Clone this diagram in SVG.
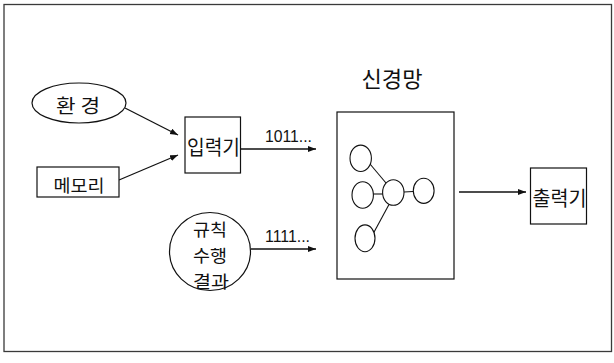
<svg xmlns="http://www.w3.org/2000/svg" width="614" height="363" viewBox="0 0 614 363">
  <style>
    .frame { fill: none; stroke: #3a3a3a; stroke-width: 1.3; }
    .shape { fill: #fff; stroke: #111; stroke-width: 1.2; }
    .net { fill: #fff; stroke: #111; stroke-width: 1.1; }
    .link { stroke: #111; stroke-width: 1.1; fill: none; }
    .conn { stroke: #111; stroke-width: 1.3; fill: none; }
    .ko { font-family: "Noto Sans CJK KR", "Noto Sans", sans-serif; fill: #111; text-anchor: middle; dominant-baseline: central; }
    .num { font-family: "Liberation Sans", Arial, sans-serif; fill: #111; font-size: 16px; }
  </style>
  <defs>
    <marker id="arrow" markerUnits="userSpaceOnUse" markerWidth="9" markerHeight="7" refX="8" refY="3" orient="auto">
      <path d="M0,0 L8,3 L0,6 z" fill="#111"/>
    </marker>
  </defs>

  <rect class="frame" x="4" y="4.5" width="607.5" height="347"/>

  <g id="connectors">
    <line class="conn" x1="125" y1="108" x2="178" y2="135" marker-end="url(#arrow)"/>
    <line class="conn" x1="119" y1="180" x2="178" y2="155" marker-end="url(#arrow)"/>
    <line class="conn" x1="241" y1="149" x2="316" y2="149" marker-end="url(#arrow)"/>
    <line class="conn" x1="251" y1="249" x2="316" y2="249" marker-end="url(#arrow)"/>
    <line class="conn" x1="459" y1="192" x2="526" y2="192" marker-end="url(#arrow)"/>
    <text class="num" x="265" y="141.5" textLength="47" lengthAdjust="spacingAndGlyphs">1011...</text>
    <text class="num" x="265" y="242" textLength="45" lengthAdjust="spacingAndGlyphs">1111...</text>
  </g>

  <g id="env">
    <ellipse class="shape" cx="79" cy="103" rx="47" ry="20"/>
    <text class="ko" x="78" y="104" font-size="19" textLength="44" lengthAdjust="spacingAndGlyphs">환 경</text>
  </g>

  <g id="memory">
    <rect class="shape" x="37" y="167" width="82" height="30"/>
    <text class="ko" x="79" y="184" font-size="17" textLength="51" lengthAdjust="spacingAndGlyphs">메모리</text>
  </g>

  <g id="input">
    <rect class="shape" x="185" y="117" width="55.5" height="56"/>
    <text class="ko" x="213.5" y="146" font-size="20" textLength="53" lengthAdjust="spacingAndGlyphs">입력기</text>
  </g>

  <g id="rules">
    <ellipse class="shape" cx="210" cy="251.5" rx="40.5" ry="39"/>
    <text class="ko" x="210" y="228" font-size="17.5" textLength="34" lengthAdjust="spacingAndGlyphs">규칙</text>
    <text class="ko" x="210" y="254" font-size="17.5" textLength="34" lengthAdjust="spacingAndGlyphs">수행</text>
    <text class="ko" x="211" y="280" font-size="17.5" textLength="36" lengthAdjust="spacingAndGlyphs">결과</text>
  </g>

  <g id="neural-net">
    <text class="ko" x="392" y="77" font-size="22" textLength="61" lengthAdjust="spacingAndGlyphs">신경망</text>
    <rect class="shape" x="337" y="112" width="117" height="167"/>
    <line class="link" x1="370" y1="164" x2="386" y2="183"/>
    <line class="link" x1="373" y1="194" x2="383" y2="194"/>
    <line class="link" x1="404" y1="192" x2="413" y2="191.5"/>
    <line class="link" x1="389" y1="204.5" x2="373" y2="234"/>
    <ellipse class="net" cx="360.7" cy="158.3" rx="10.7" ry="13.2"/>
    <ellipse class="net" cx="362.7" cy="195" rx="10.7" ry="13.2"/>
    <ellipse class="net" cx="393.3" cy="192.5" rx="10.7" ry="12.8"/>
    <ellipse class="net" cx="423.7" cy="190.8" rx="10.4" ry="12.6"/>
    <ellipse class="net" cx="365" cy="238.3" rx="10" ry="13.4"/>
  </g>

  <g id="output">
    <rect class="shape" x="530.5" y="168" width="56" height="56"/>
    <text class="ko" x="559.5" y="197" font-size="20" textLength="54" lengthAdjust="spacingAndGlyphs">출력기</text>
  </g>
</svg>
